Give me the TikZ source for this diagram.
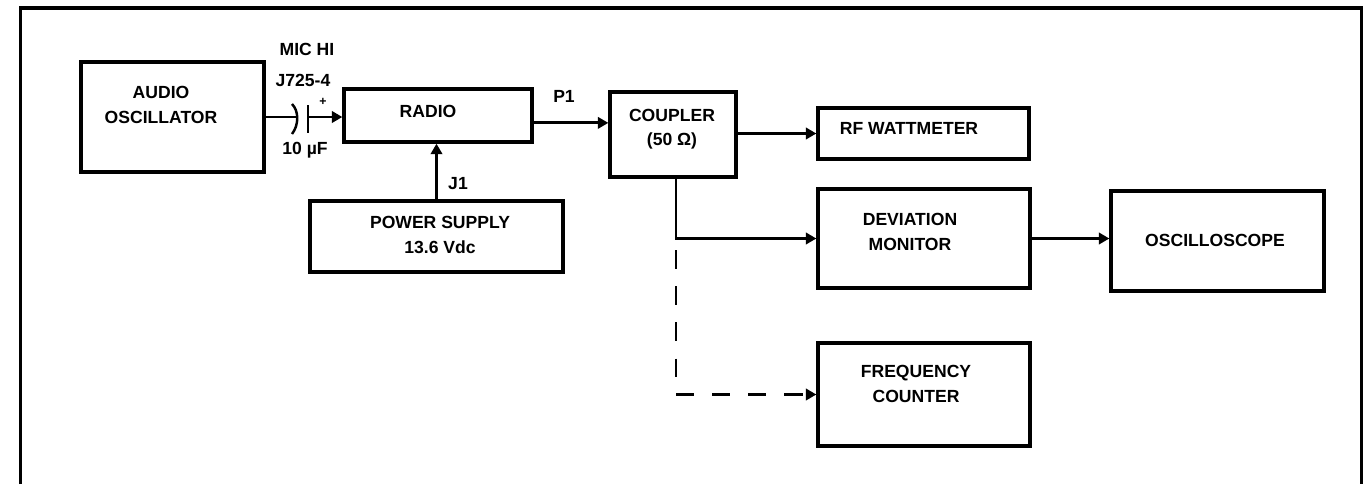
\documentclass[tikz,border=0pt]{standalone}
\usepackage{fontspec}
\setmainfont{Liberation Sans}
\usetikzlibrary{arrows.meta, positioning, calc}

\begin{document}
\begin{tikzpicture}[
  x=0.02cm, y=-0.02cm,
  blk/.style={rectangle, draw, line width=1.9pt, inner sep=0pt},
  txt/.style={inner sep=0pt, align=center, font=\bfseries\fontsize{10}{14}\selectfont},
  conn/.style={draw, line width=1.6pt, -{Triangle[length=6pt,width=6.5pt]}},
  dashconn/.style={conn, dash pattern=on 10.5pt off 10pt},
  plate/.style={draw, line width=1.4pt},
  frame/.style={draw, line width=1.9pt}
]
\useasboundingbox (0,0) rectangle (1372,484);
\draw[frame] (20.5,484) -- (20.5,8) -- (1361.5,8) -- (1361.5,484);

% blocks
\node[blk, minimum width=3.66cm, minimum height=2.2cm]  (osc)     at (172.5,117) {};
\node[blk, minimum width=3.76cm, minimum height=1.06cm] (radio)   at (438,115.5) {};
\node[blk, minimum width=5.06cm, minimum height=1.42cm] (psu)     at (436.5,236.5) {};
\node[blk, minimum width=2.52cm, minimum height=1.7cm]  (coupler) at (673,134.5) {};
\node[blk, minimum width=4.22cm, minimum height=1.02cm] (rfmeter) at (923.5,133.5) {};
\node[blk, minimum width=4.24cm, minimum height=1.98cm] (devmon)  at (924,238.5) {};
\node[blk, minimum width=4.26cm, minimum height=2.0cm]  (scope)   at (1217.5,241) {};
\node[blk, minimum width=4.24cm, minimum height=2.06cm] (freqctr) at (924,394.5) {};

% block texts
\node[txt] (osctxt)     at (161,105)  {AUDIO\\OSCILLATOR};
\node[txt] (radiotxt)   at (428,111)  {RADIO};
\node[txt] (psutxt)     at (440,235)  {POWER SUPPLY\\13.6 Vdc};
\node[txt] (couplertxt) at (672,129)  {COUPLER\\(50 Ω)};
\node[txt] (rftxt)      at (909,128)  {RF WATTMETER};
\node[txt] (devtxt)     at (910,232)  {DEVIATION\\MONITOR};
\node[txt] (scopetxt)   at (1215,240) {OSCILLOSCOPE};
\node[txt] (freqtxt)    at (916,384)  {FREQUENCY\\COUNTER};

% port labels
\node[txt] (michi) at (307,49)  {MIC HI};
\node[txt] (jmic)  at (303,80)  {J725-4};
\node[txt] (cval)  at (305,150) {10 µF};
\node[txt, font=\bfseries\fontsize{7}{8}\selectfont] (cplus) at (323,102) {+};
\node[txt] (pone)  at (564,96)  {P1};
\node[txt] (jone)  at (458,184) {J1};

% capacitor
\coordinate (capl) at (297,117);
\coordinate (capr) at (308,117);
\draw[plate] (292,104) .. controls (299,111) and (299,125) .. (292,134);
\draw[plate] (308,105) -- (308,133);

% connections
\draw[line width=1.6pt] (osc.east |- capl) -- (capl);
\draw[conn] (capr) -- (radio.west |- capr);
\draw[conn] (psu.north) -- (psu.north |- radio.south);
\draw[conn] ([yshift=-4.2pt]radio.east) -- ([yshift=-4.2pt]radio.east -| coupler.west);
\draw[conn] (coupler.east |- rfmeter.west) -- (rfmeter.west);
\coordinate (split) at ([xshift=1.7pt]coupler.south |- devmon.west);
\draw[conn] ([xshift=1.7pt]coupler.south) -- (split) -- (devmon.west);
\draw[dashconn] ([yshift=-6.8pt]split) |- (freqctr.west);
\draw[conn] (devmon.east) -- (devmon.east -| scope.west);

\end{tikzpicture}
\end{document}
